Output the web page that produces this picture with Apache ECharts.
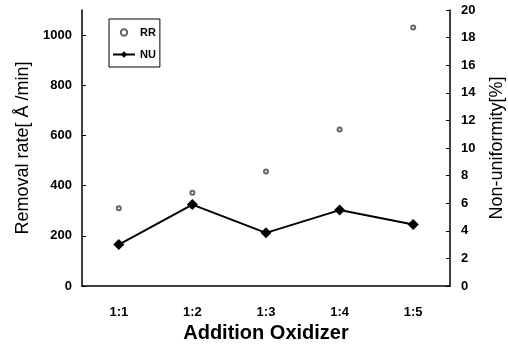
<!DOCTYPE html>
<html>
<head>
<meta charset="utf-8">
<script src="https://cdn.jsdelivr.net/npm/echarts@6/dist/echarts.min.js"></script>
<style>
  html, body { margin: 0; padding: 0; background: #fff; }
  #chart { width: 508px; height: 347px; }
</style>
</head>
<body>
<div id="chart"></div>
<script>
const categories = ['1:1', '1:2', '1:3', '1:4', '1:5']
const removalRate = [310, 372, 456, 624, 1030]
const nonUniformity = [3.0, 5.9, 3.85, 5.5, 4.45]
const leftTicks = [0, 200, 400, 600, 800, 1000]
const rightTicks = [0, 2, 4, 6, 8, 10, 12, 14, 16, 18, 20]

const font = 'Liberation Sans, Arial, sans-serif'

var myChart = echarts.init(document.getElementById('chart'))
const option = {
  animation: false,
  backgroundColor: '#fff',
  grid: { left: 82, right: 58, top: 10, bottom: 61, containLabel: false, outerBoundsMode: 'none' },
  legend: {
    left: 109,
    top: 19,
    orient: 'vertical',
    itemGap: 11,
    itemWidth: 22,
    itemHeight: 8,
    padding: [8, 4, 7, 3],
    borderColor: '#000',
    borderWidth: 1,
    textStyle: { fontFamily: font, fontSize: 11, fontWeight: 'bold', color: '#000' },
    data: ['RR', 'NU'],
  },
  xAxis: {
    type: 'category',
    data: categories,
    boundaryGap: true,
    name: 'Addition Oxidizer',
    nameLocation: 'middle',
    nameGap: 35,
    nameTextStyle: { fontFamily: font, fontSize: 20, fontWeight: 'bold', color: '#000' },
    axisLine: { lineStyle: { color: '#000', width: 1.5 } },
    axisTick: { inside: true, length: 4, lineStyle: { color: '#000' } },
    axisLabel: { margin: 20, fontFamily: font, fontSize: 13, fontWeight: 'bold', color: '#000' },
  },
  yAxis: [
    {
      type: 'value',
      min: 0,
      max: 1100,
      interval: 200,
      name: 'Removal rate[ Å /min]',
      nameLocation: 'middle',
      nameGap: 50,
      nameTextStyle: { fontFamily: font, fontSize: 18, color: '#000' },
      axisLine: { show: true, lineStyle: { color: '#000', width: 1.5 } },
      axisTick: { show: true, inside: true, length: 4, lineStyle: { color: '#000' } },
      axisLabel: {
        margin: 10,
        showMaxLabel: false,
        fontFamily: font,
        fontSize: 13,
        fontWeight: 'bold',
        color: '#000',
        formatter: (v) => (leftTicks.includes(v) ? String(v) : ''),
      },
      splitLine: { show: false },
    },
    {
      type: 'value',
      min: 0,
      max: 20,
      interval: 2,
      name: 'Non-uniformity[%]',
      nameLocation: 'middle',
      nameGap: 38,
      nameTextStyle: { fontFamily: font, fontSize: 18, color: '#000' },
      axisLine: { show: true, lineStyle: { color: '#000', width: 1.5 } },
      axisTick: { show: true, inside: true, length: 4, lineStyle: { color: '#000' } },
      axisLabel: {
        margin: 11,
        fontFamily: font,
        fontSize: 13,
        fontWeight: 'bold',
        color: '#000',
        formatter: (v) => (rightTicks.includes(v) ? String(v) : ''),
      },
      splitLine: { show: false },
    },
  ],
  series: [
    {
      name: 'RR',
      type: 'line',
      yAxisIndex: 0,
      data: removalRate,
      symbol: 'emptyCircle',
      symbolSize: 4,
      lineStyle: { width: 0, opacity: 0 },
      itemStyle: { color: '#666', borderWidth: 1 },
    },
    {
      name: 'NU',
      type: 'line',
      yAxisIndex: 1,
      data: nonUniformity,
      symbol: 'diamond',
      symbolSize: 11,
      lineStyle: { color: '#000', width: 2 },
      itemStyle: { color: '#000' },
    },
  ],
}
myChart.setOption(option)
</script>
</body>
</html>
